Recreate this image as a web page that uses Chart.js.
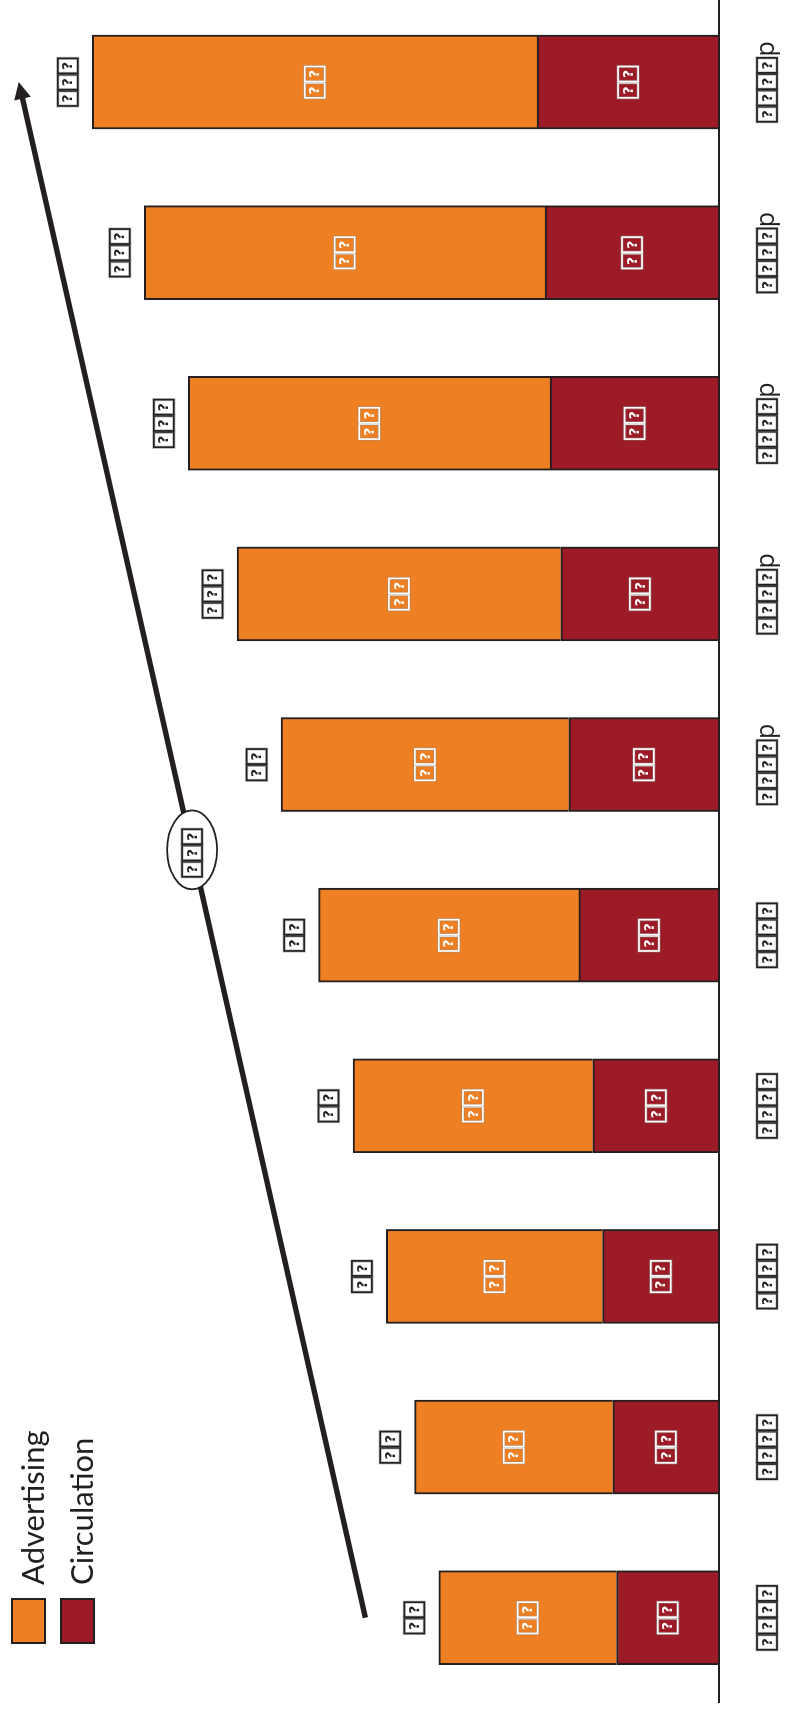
<!DOCTYPE html>
<html>
<head>
<meta charset="utf-8">
<title>Advertising and circulation</title>
<script src="https://cdn.jsdelivr.net/npm/chart.js@4.4.1/dist/chart.umd.min.js"></script>
<style>
  html, body { margin: 0; padding: 0; background: #fff; overflow: hidden; }
  body { width: 791px; height: 1712px; position: relative; }
  /* the chart is drawn upright and turned a quarter left, like the picture */
  #chart {
    position: absolute; left: 0; top: 0;
    transform-origin: 0 0;
    transform: translateY(1712px) rotate(-90deg);
  }
</style>
</head>
<body>
<canvas id="chart" width="1720" height="791"></canvas>
<script>
// Data (glyphs the source font lacked are kept as '?')
var categories = ['????', '????', '????', '????', '????', '????p', '????p', '????p', '????p', '????p'];
var advertising = [38.3, 42.7, 46.6, 51.7, 56.1, 62.0, 69.8, 78.0, 86.4, 95.9];
var circulation = [22.1, 22.9, 25.1, 27.2, 30.2, 32.4, 34.1, 36.4, 37.5, 39.2];
var seriesNames = ['Advertising', 'Circulation'];
var cagrLabel = '???';

var orange = '#ee7f22';
var darkRed = '#9c1b26';
var ink = '#231f20';

var totals = [];
for (var i = 0; i < advertising.length; i++) {
  totals.push(advertising[i] + circulation[i]);
}

// Digits and '?' came out as empty-glyph boxes in the source, draw them that way
function isBoxed(ch) {
  return ch === '?' || (ch >= '0' && ch <= '9');
}

function drawBoxText(ctx, text, cx, cy, color) {
  var boxW = 15, boxH = 20, step = 16.3;
  var chars = text.split('');
  ctx.save();
  ctx.font = '25px "Open Sans"';
  var widths = [];
  var total = 0;
  for (var i = 0; i < chars.length; i++) {
    var w = isBoxed(chars[i]) ? step : ctx.measureText(chars[i]).width;
    widths.push(w);
    total += w;
  }
  var x = cx - total / 2;
  for (var i = 0; i < chars.length; i++) {
    if (isBoxed(chars[i])) {
      ctx.strokeStyle = 'rgba(140,140,140,0.5)';
      ctx.lineWidth = 3.2;
      ctx.strokeRect(x + 0.5, cy - boxH / 2, boxW, boxH);
      ctx.strokeStyle = color;
      ctx.lineWidth = 1.7;
      ctx.strokeRect(x + 0.5, cy - boxH / 2, boxW, boxH);
      ctx.fillStyle = color;
      ctx.font = 'bold 14px "DejaVu Sans"';
      ctx.textAlign = 'center';
      ctx.textBaseline = 'middle';
      ctx.fillText('?', x + 0.5 + boxW / 2, cy + 1);
    } else {
      ctx.fillStyle = color;
      ctx.font = '25px "Open Sans"';
      ctx.textAlign = 'left';
      ctx.textBaseline = 'alphabetic';
      ctx.fillText(chars[i], x + 0.5, cy + 6.5);
    }
    x += widths[i];
  }
  ctx.restore();
}

var decorPlugin = {
  id: 'decor',
  afterDatasetsDraw: function (chart) {
    var ctx = chart.ctx;
    var area = chart.chartArea;
    var xScale = chart.scales.x;
    var yScale = chart.scales.y;

    // category axis line
    ctx.save();
    ctx.strokeStyle = ink;
    ctx.lineWidth = 2;
    ctx.beginPath();
    ctx.moveTo(area.left, area.bottom);
    ctx.lineTo(chart.width, area.bottom);
    ctx.stroke();
    ctx.restore();

    // values inside each segment
    chart.data.datasets.forEach(function (ds, d) {
      var meta = chart.getDatasetMeta(d);
      meta.data.forEach(function (bar, i) {
        var mid = (bar.y + bar.base) / 2;
        drawBoxText(ctx, String(Math.round(ds.data[i])), bar.x, mid, '#ffffff');
      });
    });

    // totals above the bars and category labels under the axis
    for (var i = 0; i < categories.length; i++) {
      var cx = xScale.getPixelForValue(i);
      var top = yScale.getPixelForValue(totals[i]);
      drawBoxText(ctx, String(Math.round(totals[i])), cx, top - 24.5, ink);
      drawBoxText(ctx, categories[i], cx, area.bottom + 48, ink);
    }

    // growth arrow from first to last bar
    var last = categories.length - 1;
    var x0 = xScale.getPixelForValue(0);
    var y0 = yScale.getPixelForValue(totals[0]) - 73.5;
    var x1 = xScale.getPixelForValue(last);
    var y1 = yScale.getPixelForValue(totals[last]) - 73.5;
    var len = Math.sqrt((x1 - x0) * (x1 - x0) + (y1 - y0) * (y1 - y0));
    var ux = (x1 - x0) / len, uy = (y1 - y0) / len;
    var headLen = 17, headHalf = 8.5;
    ctx.save();
    ctx.strokeStyle = ink;
    ctx.fillStyle = ink;
    ctx.lineWidth = 5.5;
    ctx.beginPath();
    ctx.moveTo(x0, y0);
    ctx.lineTo(x1 - ux * (headLen - 2), y1 - uy * (headLen - 2));
    ctx.stroke();
    ctx.beginPath();
    ctx.moveTo(x1, y1);
    ctx.lineTo(x1 - ux * headLen - uy * headHalf, y1 - uy * headLen + ux * headHalf);
    ctx.lineTo(x1 - ux * headLen + uy * headHalf, y1 - uy * headLen - ux * headHalf);
    ctx.closePath();
    ctx.fill();

    // growth bubble in the middle of the arrow
    var mx = (x0 + x1) / 2, my = (y0 + y1) / 2;
    ctx.beginPath();
    ctx.ellipse(mx, my, 39.5, 25, 0, 0, Math.PI * 2);
    ctx.fillStyle = '#ffffff';
    ctx.fill();
    ctx.lineWidth = 1.8;
    ctx.stroke();
    ctx.restore();
    drawBoxText(ctx, cagrLabel, mx - 3, my, ink);

    // legend
    var colors = [orange, darkRed];
    ctx.save();
    for (var k = 0; k < seriesNames.length; k++) {
      var ly = 11 + k * 49;
      ctx.fillStyle = colors[k];
      ctx.fillRect(68, ly, 46, 35);
      ctx.strokeStyle = ink;
      ctx.lineWidth = 2;
      ctx.strokeRect(69, ly + 1, 44, 33);
      ctx.fillStyle = ink;
      ctx.font = '31px Lato';
      ctx.textAlign = 'left';
      ctx.textBaseline = 'alphabetic';
      ctx.fillText(seriesNames[k], 127, ly + 32.5);
    }
    ctx.restore();
  }
};

var chart = new Chart(document.getElementById('chart'), {
  type: 'bar',
  data: {
    labels: categories,
    datasets: [
      {
        label: seriesNames[1],
        data: circulation,
        backgroundColor: darkRed,
        borderColor: ink,
        borderWidth: 2,
        barThickness: 94
      },
      {
        label: seriesNames[0],
        data: advertising,
        backgroundColor: orange,
        borderColor: ink,
        borderWidth: 2,
        barThickness: 94
      }
    ]
  },
  options: {
    responsive: false,
    animation: false,
    devicePixelRatio: 1,
    layout: { padding: { left: 9, right: 4.7, top: 0, bottom: 72 } },
    plugins: {
      legend: { display: false },
      tooltip: { enabled: false }
    },
    scales: {
      x: { stacked: true, display: false },
      y: { stacked: true, display: false, min: 0, max: 155 }
    }
  },
  plugins: [decorPlugin]
});
</script>
</body>
</html>
